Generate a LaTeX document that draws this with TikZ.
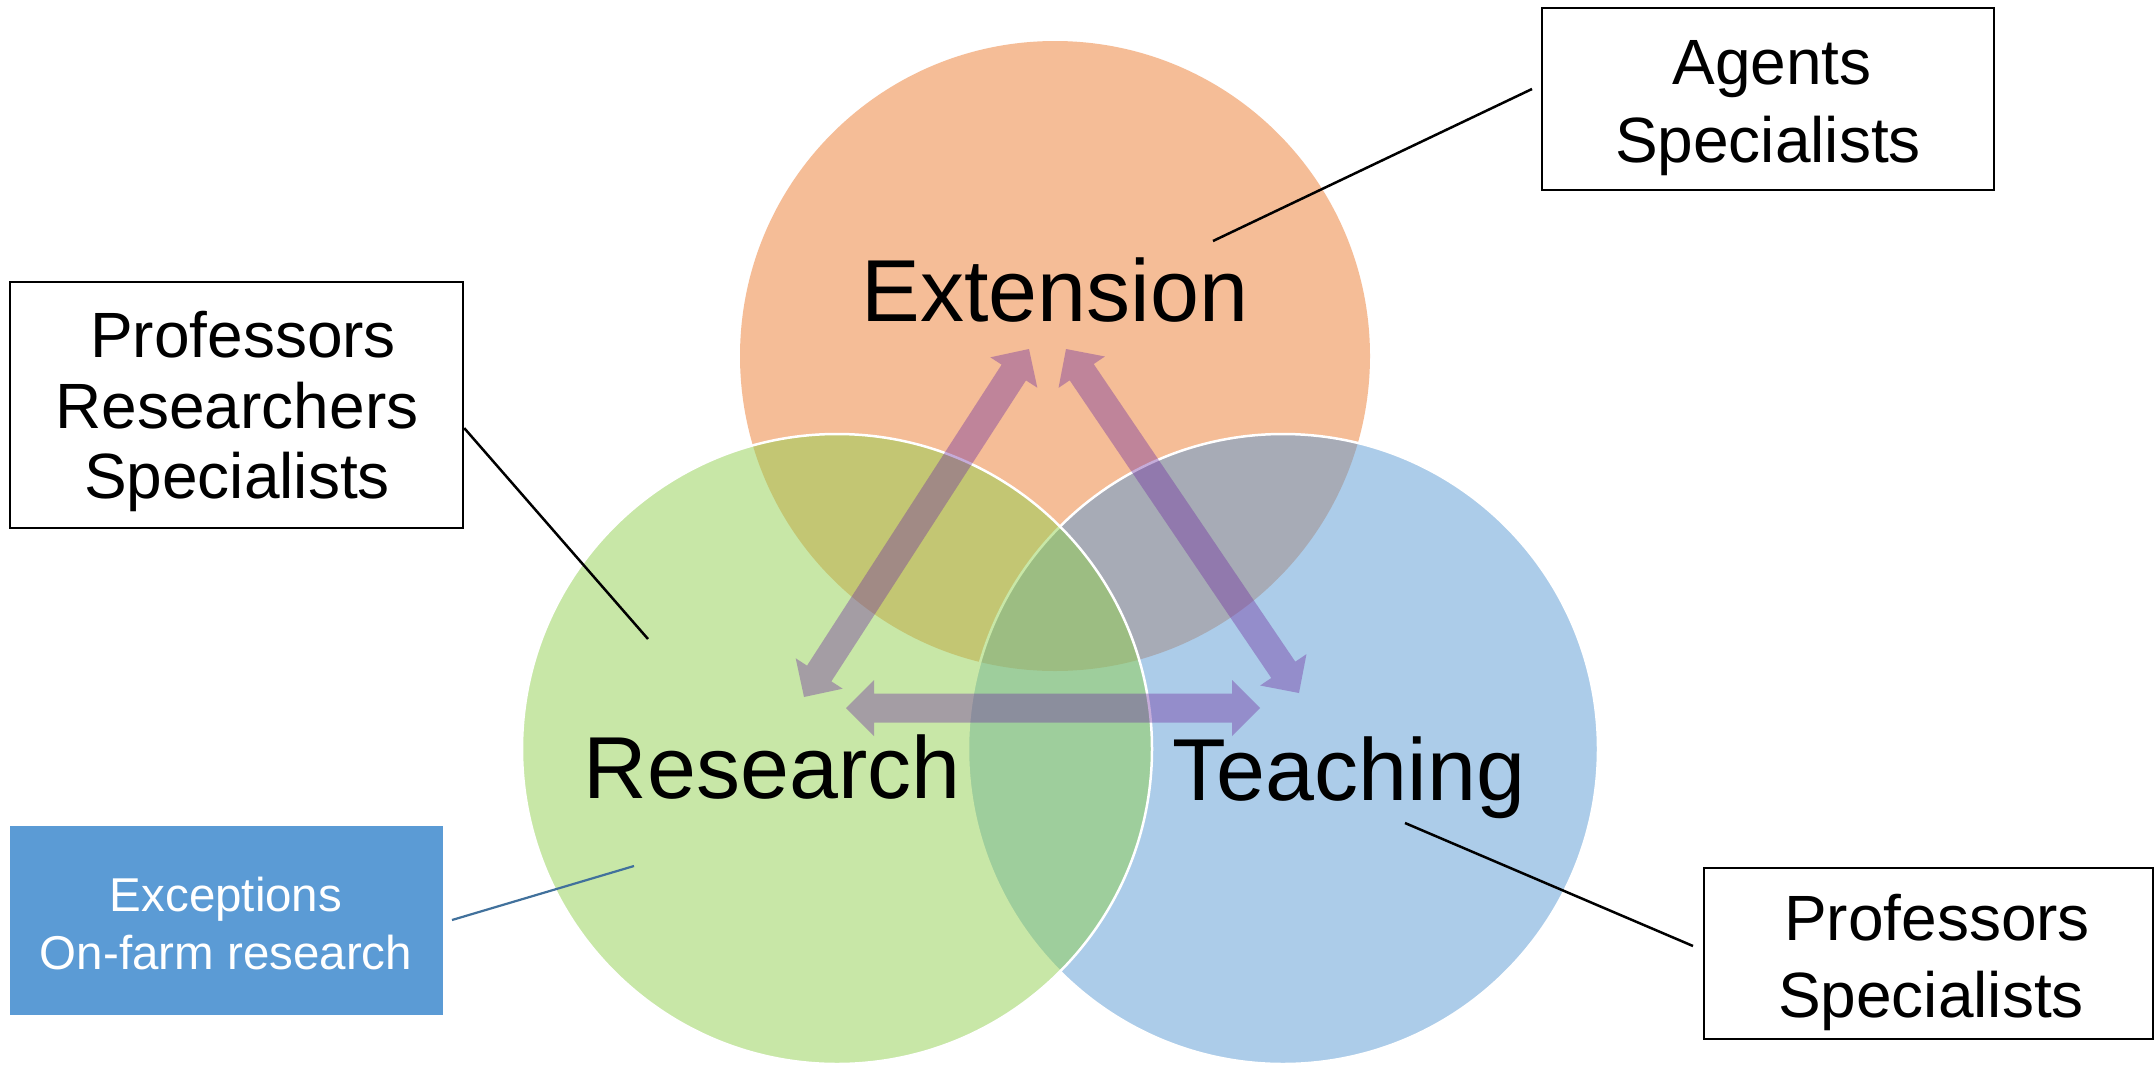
\documentclass[tikz,border=0pt]{standalone}
\usepackage{fontspec}
\setmainfont{Liberation Sans}
\usetikzlibrary{calc}
\definecolor{extc}{HTML}{ED7D31}
\definecolor{resc}{HTML}{92D050}
\definecolor{teac}{HTML}{5B9BD5}
\definecolor{arrc}{HTML}{7030A0}
\definecolor{linkc}{HTML}{41719C}
\newcommand\blockarrow[3]{%
  \coordinate (#3a) at ($(#1)!28pt!(#2)$);
  \coordinate (#3b) at ($(#2)!28pt!(#1)$);
  \fill[arrowfill] (#1) -- ($(#3a)!28pt!90:(#2)$) -- ($(#3a)!14.5pt!90:(#2)$)
    -- ($(#3b)!14.5pt!-90:(#1)$) -- ($(#3b)!28pt!-90:(#1)$) -- (#2)
    -- ($(#3b)!28pt!90:(#1)$) -- ($(#3b)!14.5pt!90:(#1)$)
    -- ($(#3a)!14.5pt!-90:(#2)$) -- ($(#3a)!28pt!-90:(#2)$) -- cycle;}
\begin{document}
\begin{tikzpicture}[x=1pt,y=-1pt,
  venn/.style={circle, minimum size=630pt, inner sep=0pt, fill opacity=0.5},
  arrowfill/.style={fill=arrc, fill opacity=0.4},
  biglabel/.style={anchor=base, inner sep=0pt, font=\fontsize{88}{100}\selectfont},
  boxtext/.style={anchor=base, inner sep=0pt, font=\fontsize{64}{72}\selectfont},
  infobox/.style={draw=black, line width=2.5pt, fill=white, rectangle, inner sep=0pt},
  leader/.style={draw=black, line width=2.5pt}]
\useasboundingbox (0,0) rectangle (2156,1069);
\fill[white] (0,0) rectangle (2156,1069);
% circles
\node[venn, fill=extc] (ext) at (1055,356) {};
\node[venn, fill=teac, draw=white, draw opacity=1, line width=2.5pt] (tea) at (1283,749) {};
\node[venn, fill=resc, draw=white, draw opacity=1, line width=2.5pt] (res) at (837,749) {};
% arrow tips
\coordinate (ldt) at (1029,349);
\coordinate (ldb) at (804,697);
\coordinate (rdt) at (1066,349);
\coordinate (rdb) at (1299,693);
\coordinate (hl) at (846,708);
\coordinate (hr) at (1260,708);
\blockarrow{ldt}{ldb}{la}
\blockarrow{rdt}{rdb}{ra}
\blockarrow{hl}{hr}{ha}
% labels
\node[biglabel] (extlabel) at (1055,321) {Extension};
\node[biglabel] (reslabel) at (772,798) {Research};
\node[biglabel] (tealabel) at (1349,800) {Teaching};
% left box
\node[infobox, minimum width=453pt, minimum height=246pt] (lbox) at (236.5,405) {};
\node[boxtext] (l1) at (243,357) {Professors};
\node[boxtext] (l2) at (237,428) {Researchers};
\node[boxtext] (l3) at (237,498) {Specialists};
\coordinate (lend) at (648,639);
\draw[leader] ($(lbox.north east)!0.593!(lbox.south east)$) -- (lend);
% agents box
\node[infobox, minimum width=452pt, minimum height=182pt] (abox) at (1768,99) {};
\node[boxtext] (a1) at (1772,84) {Agents};
\node[boxtext] (a2) at (1768,162) {Specialists};
\coordinate (astart) at (1213,241);
\coordinate (aend) at (1532,89);
\draw[leader] (astart) -- (aend);
% bottom right box
\node[infobox, minimum width=449pt, minimum height=171pt] (rbox) at (1928.5,953.5) {};
\node[boxtext] (r1) at (1937,940) {Professors};
\node[boxtext] (r2) at (1931,1017) {Specialists};
\coordinate (rstart) at (1405,823);
\coordinate (rend) at (1693,946);
\draw[leader] (rstart) -- (rend);
% blue box
\node[rectangle, fill=teac, inner sep=0pt, minimum width=433pt, minimum height=189pt] (bbox) at (226.5,920.5) {};
\node[anchor=base, inner sep=0pt, text=white, font=\fontsize{47.5}{58}\selectfont] (b1) at (226,911) {Exceptions};
\node[anchor=base, inner sep=0pt, text=white, font=\fontsize{47.5}{58}\selectfont] (b2) at (226,969) {On-farm research};
\coordinate (bstart) at (452,920);
\coordinate (bend) at (634,866);
\draw[linkc, line width=2.2pt] (bstart) -- (bend);
\end{tikzpicture}
\end{document}
